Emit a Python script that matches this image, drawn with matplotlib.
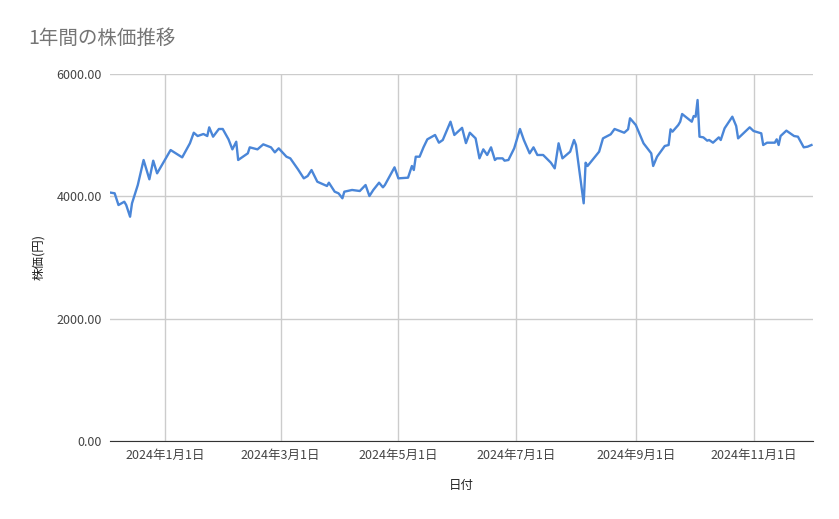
import matplotlib
matplotlib.use("Agg")
import matplotlib.pyplot as plt
import pandas as pd

plt.rcParams['font.family'] = ['Noto Sans CJK JP', 'DejaVu Sans']

# 2024-01-01 からの日数と株価(円)
day_offsets = [-28, -26, -24, -21, -20, -18, -17, -14, -11, -8, -6, -4, 0, 3, 9, 13, 15, 17, 20, 22,
               23, 25, 28, 30, 33, 35, 37, 38, 43, 44, 48, 51, 55, 57, 59, 63, 65, 69, 72, 74,
               76, 79, 84, 85, 88, 90, 92, 93, 97, 101, 104, 106, 108, 111, 113, 114, 119, 121, 126, 128,
               129, 130, 132, 134, 136, 140, 142, 144, 148, 150, 154, 156, 158, 161, 163, 165, 167, 169, 171, 172,
               175, 176, 178, 181, 184, 186, 189, 191, 193, 196, 200, 202, 204, 206, 210, 212, 213, 217, 218, 219,
               225, 227, 231, 233, 238, 240, 241, 244, 248, 252, 253, 255, 259, 261, 262, 263, 266, 267, 268, 273,
               274, 275, 276, 277, 279, 281, 282, 284, 287, 288, 290, 294, 296, 297, 303, 305, 309, 310, 312, 316,
               317, 318, 319, 322, 324, 326, 328, 331, 333, 335]
prices = [4060, 4050, 3858, 3912, 3858, 3667, 3886, 4185, 4594, 4278, 4583, 4376, 4594, 4757, 4637, 4867, 5040, 4986, 5019, 4986,
          5128, 4975, 5101, 5101, 4932, 4768, 4893, 4594, 4703, 4801, 4768, 4850, 4801, 4719, 4785, 4648, 4621, 4441, 4294, 4332,
          4430, 4239, 4169, 4223, 4076, 4049, 3968, 4076, 4104, 4087, 4185, 4005, 4104, 4223, 4147, 4185, 4474, 4294, 4305, 4496,
          4430, 4648, 4648, 4801, 4932, 5003, 4877, 4921, 5220, 5003, 5120, 4870, 5040, 4948, 4621, 4768, 4676, 4801, 4594, 4621,
          4621, 4583, 4594, 4785, 5101, 4921, 4703, 4801, 4676, 4676, 4550, 4457, 4867, 4621, 4730, 4921, 4839, 3886, 4550, 4496,
          4730, 4948, 5014, 5101, 5040, 5096, 5276, 5166, 4867, 4703, 4496, 4648, 4823, 4839, 5096, 5057, 5166, 5220, 5346, 5220,
          5313, 5302, 5575, 4975, 4964, 4910, 4921, 4877, 4964, 4921, 5112, 5302, 5150, 4948, 5128, 5068, 5030, 4839, 4877, 4877,
          4932, 4839, 4986, 5074, 5030, 4986, 4975, 4801, 4812, 4839]
tick_dates = ["2024-01-01", "2024-03-01", "2024-05-01", "2024-07-01", "2024-09-01", "2024-11-01"]
y_ticks = [0, 2000, 4000, 6000]

base = pd.Timestamp("2024-01-01")
dates = [base + pd.Timedelta(days=d) for d in day_offsets]

fig = plt.figure(figsize=(8.39, 5.19), dpi=100)
ax = fig.add_axes([110/839, 1-441/519, 703/839, 367/519])
ax.plot(dates, prices, color='#4a86d8', linewidth=1.7)

ax.set_xlim(base + pd.Timedelta(days=-28.4), base + pd.Timedelta(days=335.8))
ax.set_ylim(0, 6000)
ticks = [pd.Timestamp(t) for t in tick_dates]
ax.set_xticks(ticks)
ax.set_xticklabels([f"{t.year}年{t.month}月{t.day}日" for t in ticks])
ax.set_yticks(y_ticks)
ax.set_yticklabels([f"{v:.2f}" for v in y_ticks])
ax.grid(True, color='#cccccc', linewidth=1)
ax.set_axisbelow(True)
for s in ['top', 'right', 'left']:
    ax.spines[s].set_visible(False)
ax.spines['bottom'].set_color('#333333')
ax.tick_params(length=0, labelsize=9, colors='#444444', pad=6)

ax.set_xlabel("日付", fontsize=9, color='#222222', labelpad=12)
ax.set_ylabel("株価(円)", fontsize=9, color='#222222', labelpad=8)
fig.text(28/839, 1-38/519, "1年間の株価推移", fontsize=14, color='#757575', va='center')

fig.savefig("out.png", dpi=100)
